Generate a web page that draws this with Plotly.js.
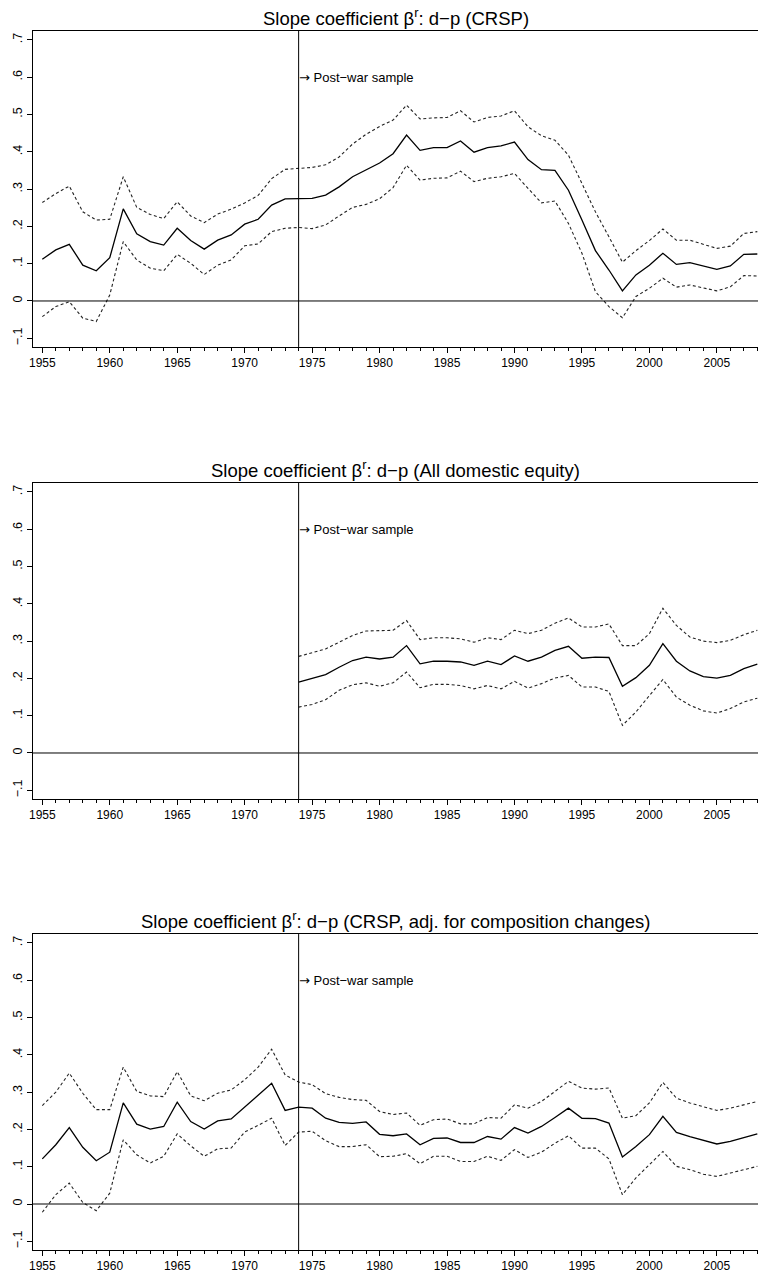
<!DOCTYPE html>
<html><head><meta charset="utf-8">
<script src="https://cdn.plot.ly/plotly-3.0.1.min.js"></script>
<style>html,body{margin:0;padding:0;background:#fff}#chart{width:758px;height:1273px}</style>
</head><body><div id="chart"></div>
<script>
const years = [1955,1956,1957,1958,1959,1960,1961,1962,1963,1964,1965,1966,1967,1968,1969,1970,1971,1972,1973,1974,1975,1976,1977,1978,1979,1980,1981,1982,1983,1984,1985,1986,1987,1988,1989,1990,1991,1992,1993,1994,1995,1996,1997,1998,1999,2000,2001,2002,2003,2004,2005,2006,2007,2008];
const yearsPost = [1974,1975,1976,1977,1978,1979,1980,1981,1982,1983,1984,1985,1986,1987,1988,1989,1990,1991,1992,1993,1994,1995,1996,1997,1998,1999,2000,2001,2002,2003,2004,2005,2006,2007,2008];

const crspMid = [0.112,0.137,0.152,0.096,0.081,0.116,0.247,0.180,0.159,0.150,0.195,0.162,0.139,0.163,0.177,0.206,0.219,0.257,0.274,0.275,0.275,0.284,0.306,0.333,0.351,0.370,0.395,0.445,0.404,0.411,0.411,0.429,0.399,0.411,0.416,0.426,0.379,0.352,0.350,0.297,0.217,0.135,0.083,0.027,0.070,0.096,0.128,0.098,0.103,0.094,0.085,0.094,0.125,0.126];
const crspHi = [0.264,0.288,0.308,0.239,0.217,0.219,0.333,0.251,0.232,0.221,0.266,0.228,0.210,0.233,0.246,0.263,0.283,0.328,0.353,0.355,0.358,0.365,0.386,0.421,0.447,0.468,0.485,0.525,0.488,0.491,0.492,0.510,0.480,0.492,0.496,0.510,0.467,0.443,0.431,0.391,0.315,0.239,0.172,0.104,0.135,0.162,0.193,0.163,0.163,0.153,0.141,0.147,0.181,0.186];
const crspLo = [-0.042,-0.015,-0.002,-0.046,-0.055,0.016,0.159,0.110,0.088,0.081,0.125,0.101,0.071,0.096,0.110,0.148,0.153,0.186,0.195,0.197,0.194,0.204,0.228,0.251,0.259,0.274,0.304,0.364,0.324,0.329,0.330,0.348,0.320,0.329,0.333,0.342,0.302,0.263,0.268,0.208,0.128,0.025,-0.015,-0.045,0.012,0.034,0.061,0.037,0.043,0.036,0.027,0.038,0.068,0.067];

const domMid = [0.190,0.199,0.210,0.230,0.248,0.257,0.252,0.257,0.288,0.239,0.246,0.246,0.244,0.235,0.246,0.237,0.260,0.246,0.257,0.275,0.286,0.254,0.257,0.256,0.179,0.202,0.235,0.293,0.246,0.220,0.205,0.201,0.208,0.226,0.238];
const domHi = [0.259,0.268,0.279,0.297,0.315,0.327,0.327,0.329,0.355,0.304,0.309,0.309,0.306,0.297,0.309,0.304,0.329,0.320,0.329,0.348,0.362,0.338,0.338,0.346,0.288,0.288,0.320,0.388,0.342,0.311,0.300,0.296,0.302,0.317,0.329];
const domLo = [0.123,0.130,0.143,0.168,0.183,0.188,0.179,0.188,0.217,0.175,0.184,0.184,0.181,0.172,0.181,0.172,0.192,0.174,0.186,0.201,0.208,0.177,0.177,0.165,0.074,0.110,0.154,0.197,0.150,0.128,0.113,0.107,0.119,0.137,0.147];

const adjMid = [0.121,0.159,0.205,0.152,0.116,0.139,0.271,0.214,0.201,0.208,0.273,0.221,0.201,0.223,0.228,0.260,0.291,0.324,0.251,0.260,0.257,0.230,0.219,0.216,0.220,0.187,0.183,0.188,0.159,0.176,0.177,0.165,0.165,0.181,0.174,0.205,0.190,0.208,0.232,0.257,0.230,0.229,0.217,0.126,0.154,0.186,0.235,0.192,0.181,0.170,0.161,0.168,0.179,0.188];
const adjHi = [0.264,0.300,0.351,0.297,0.253,0.253,0.367,0.302,0.290,0.288,0.355,0.290,0.277,0.297,0.306,0.333,0.367,0.415,0.346,0.327,0.320,0.296,0.286,0.280,0.278,0.248,0.240,0.244,0.211,0.226,0.228,0.215,0.215,0.232,0.230,0.266,0.257,0.275,0.302,0.329,0.311,0.308,0.311,0.230,0.237,0.271,0.326,0.284,0.271,0.260,0.251,0.257,0.266,0.275];
const adjLo = [-0.022,0.025,0.056,0.004,-0.018,0.029,0.172,0.132,0.110,0.128,0.188,0.156,0.128,0.148,0.150,0.193,0.211,0.230,0.157,0.193,0.195,0.170,0.154,0.154,0.159,0.127,0.128,0.135,0.108,0.128,0.128,0.114,0.114,0.128,0.117,0.146,0.125,0.139,0.163,0.183,0.150,0.150,0.121,0.025,0.070,0.105,0.141,0.101,0.092,0.080,0.074,0.083,0.092,0.101];

const titles = [
  'Slope coefficient β<sup>r</sup>: d\u2212p (CRSP)',
  'Slope coefficient β<sup>r</sup>: d\u2212p (All domestic equity)',
  'Slope coefficient β<sup>r</sup>: d\u2212p (CRSP, adj. for composition changes)'
];
const yTickVals = [-0.1,0,0.1,0.2,0.3,0.4,0.5,0.6,0.7];
const yTickText = ['\u2212.1','0','.1','.2','.3','.4','.5','.6','.7'];
const breakYear = 1974;
const noteText = '<span style="font-family:DejaVu Sans">\u2192</span> Post\u2212war sample';

const panels = [
  {x: years, mid: crspMid, hi: crspHi, lo: crspLo},
  {x: yearsPost, mid: domMid, hi: domHi, lo: domLo},
  {x: years, mid: adjMid, hi: adjHi, lo: adjLo}
];
const domains = [[0.7408,1.0],[0.37,0.6292],[0.0,0.2592]];
const FONT = 'Liberation Sans, Arial, Helvetica, sans-serif';

const traces = [];
const layout = {
  width: 758, height: 1273,
  margin: {l: 33, r: 0, t: 31, b: 23},
  paper_bgcolor: '#fff', plot_bgcolor: '#fff',
  showlegend: false,
  font: {family: FONT, color: '#000', size: 12},
  shapes: [], annotations: []
};

panels.forEach((p, i) => {
  const n = i === 0 ? '' : String(i + 1);
  const xa = 'x' + n, ya = 'y' + n;
  const dashStyle = {color: '#222', width: 1.1, dash: '3px,2.5px'};
  traces.push({x: p.x, y: p.hi, xaxis: xa, yaxis: ya, mode: 'lines', line: dashStyle, hoverinfo: 'skip'});
  traces.push({x: p.x, y: p.lo, xaxis: xa, yaxis: ya, mode: 'lines', line: dashStyle, hoverinfo: 'skip'});
  traces.push({x: p.x, y: p.mid, xaxis: xa, yaxis: ya, mode: 'lines', line: {color: '#000', width: 1.3}, hoverinfo: 'skip'});

  layout['xaxis' + n] = {
    anchor: ya, domain: [0, 1], range: [1954.31, 2008.05],
    tickmode: 'linear', tick0: 1955, dtick: 5,
    ticks: 'outside', ticklen: 5, tickwidth: 1, tickcolor: '#000',
    minor: {tickmode: 'linear', tick0: 1955, dtick: 1, ticks: 'outside', ticklen: 3, tickwidth: 1, tickcolor: '#000', showgrid: false},
    showline: true, linecolor: '#000', linewidth: 1, mirror: true,
    showgrid: false, zeroline: false,
    tickfont: {family: FONT, size: 12, color: '#000'}
  };
  layout['yaxis' + n] = {
    anchor: xa, domain: domains[i], range: [-0.1233, 0.7239],
    tickmode: 'array', tickvals: yTickVals, ticktext: yTickText, tickangle: -90,
    ticks: 'outside', ticklen: 5, tickwidth: 1, tickcolor: '#000',
    showline: true, linecolor: '#000', linewidth: 1,
    showgrid: false, zeroline: false,
    tickfont: {family: FONT, size: 12.5, color: '#000'}
  };
  layout.shapes.push({type: 'line', xref: xa, yref: ya + ' domain', x0: breakYear, x1: breakYear, y0: 0, y1: 1, line: {color: '#000', width: 1}});
  layout.shapes.push({type: 'line', xref: xa + ' domain', yref: ya, x0: 0, x1: 1, y0: 0, y1: 0, line: {color: '#000', width: 1}});
  layout.annotations.push({xref: xa, yref: ya, x: breakYear, y: 0.6, xanchor: 'left', yanchor: 'middle', showarrow: false, text: noteText, font: {family: FONT, size: 13, color: '#000'}, xshift: -2});
  layout.annotations.push({xref: xa + ' domain', yref: ya + ' domain', x: 0.5, y: 1, xanchor: 'center', yanchor: 'bottom', yshift: 0, showarrow: false, text: titles[i], font: {family: FONT, size: 18.5, color: '#000'}});
});

Plotly.newPlot('chart', traces, layout, {staticPlot: true, displayModeBar: false});
</script></body></html>
